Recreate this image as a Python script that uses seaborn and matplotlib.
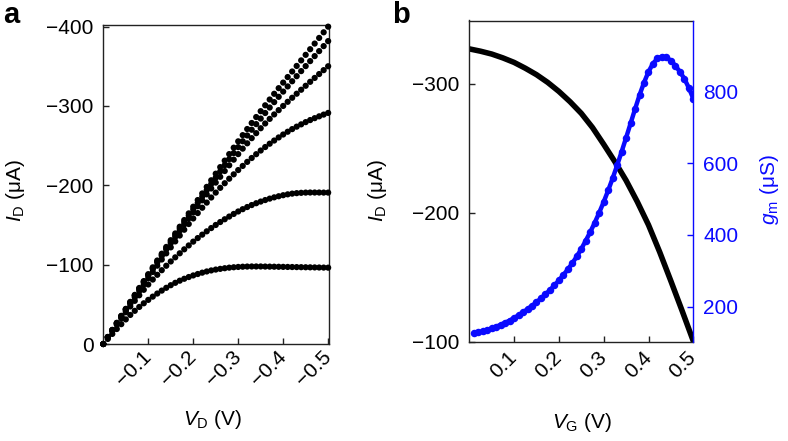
import numpy as np
import pandas as pd
import matplotlib
matplotlib.use("Agg")
import matplotlib.pyplot as plt
import seaborn as sns

# ---------------- data ----------------
VD = [0.0, -0.01, -0.02, -0.03, -0.04, -0.05, -0.06, -0.07, -0.08, -0.09,
      -0.10, -0.11, -0.12, -0.13, -0.14, -0.15, -0.16, -0.17, -0.18, -0.19,
      -0.20, -0.21, -0.22, -0.23, -0.24, -0.25, -0.26, -0.27, -0.28, -0.29,
      -0.30, -0.31, -0.32, -0.33, -0.34, -0.35, -0.36, -0.37, -0.38, -0.39,
      -0.40, -0.41, -0.42, -0.43, -0.44, -0.45, -0.46, -0.47, -0.48, -0.49, -0.50]

ID_1 = [0, -6.4, -12.7, -18.9, -25.0, -31.0, -36.6, -41.8, -46.7, -51.3, -55.6, -59.7, -63.6,
        -67.3, -70.8, -74.1, -77.1, -79.8, -82.2, -84.4, -86.4, -88.2, -89.9, -91.4, -92.7,
        -93.8, -94.7, -95.5, -96.2, -96.7, -97.1, -97.4, -97.6, -97.7, -97.7, -97.7, -97.6,
        -97.5, -97.4, -97.3, -97.2, -97.1, -97.0, -96.9, -96.8, -96.7, -96.6, -96.5, -96.4,
        -96.3, -96.2]
ID_2 = [0, -8.2, -16.3, -24.3, -32.2, -40.0, -47.3, -54.4, -61.4, -68.3, -75.0, -81.2, -87.2,
        -93.0, -98.6, -104.0, -109.2, -114.3, -119.3, -124.2, -129.0, -133.5, -137.8, -142.0,
        -146.1, -150.0, -153.7, -157.2, -160.6, -163.9, -167.0, -169.9, -172.6, -175.1, -177.4,
        -179.5, -181.4, -183.2, -184.8, -186.2, -187.5, -188.6, -189.5, -190.1, -190.5, -190.8,
        -190.9, -190.9, -190.9, -190.8, -190.8]
ID_3 = [0, -8.5, -17.0, -25.4, -33.8, -42.1, -50.4, -58.6, -66.8, -74.9, -82.9, -90.8, -98.7,
        -106.5, -114.2, -121.8, -129.3, -136.7, -144.0, -151.2, -158.2, -165.0, -171.7, -178.2,
        -184.6, -190.8, -196.8, -202.6, -208.3, -213.8, -219.2, -224.4, -229.5, -234.4, -239.2,
        -243.8, -248.2, -252.4, -256.4, -260.3, -264.0, -267.5, -270.8, -273.9, -276.8, -279.6,
        -282.2, -284.6, -286.9, -289.1, -291.2]
ID_4 = [0, -8.7, -17.4, -26.1, -34.8, -43.4, -52.0, -60.6, -69.1, -77.6, -86.1, -94.5, -102.8,
        -111.0, -119.1, -127.1, -135.0, -142.9, -150.7, -158.4, -166.0, -173.6, -181.1, -188.6,
        -196.0, -203.4, -210.7, -218.0, -225.2, -232.3, -239.3, -246.2, -252.9, -259.4, -265.7,
        -271.9, -277.9, -283.7, -289.3, -294.7, -300.0, -305.2, -310.3, -315.4, -320.4, -325.4,
        -330.4, -335.3, -340.2, -345.1, -350.0]
ID_5 = [0, -8.8, -17.6, -26.4, -35.1, -43.8, -52.5, -61.2, -69.8, -78.4, -87.0, -95.5, -104.0,
        -112.4, -120.8, -129.1, -137.4, -145.6, -153.7, -161.8, -169.8, -177.8, -185.8, -193.8,
        -201.7, -209.6, -217.5, -225.3, -233.0, -240.6, -248.1, -255.5, -262.8, -270.0, -277.1,
        -284.1, -291.1, -298.0, -304.8, -311.5, -318.1, -324.6, -331.1, -337.5, -343.9, -350.2,
        -356.5, -362.8, -369.1, -375.4, -381.7]
ID_6 = [0, -8.9, -17.8, -26.7, -35.5, -44.3, -53.1, -61.9, -70.6, -79.3, -88.0, -96.6, -105.2,
        -113.8, -122.3, -130.8, -139.3, -147.8, -156.2, -164.6, -173.0, -181.4, -189.7, -198.0,
        -206.3, -214.6, -222.9, -231.1, -239.3, -247.4, -255.4, -263.2, -270.9, -278.5, -286.0,
        -293.4, -300.8, -308.1, -315.3, -322.4, -329.4, -336.4, -343.4, -350.4, -357.4, -364.4,
        -371.5, -378.6, -385.7, -392.8, -399.9]

VG_I = [0.0, 0.025, 0.05, 0.075, 0.10, 0.125, 0.15, 0.175, 0.20, 0.225, 0.25,
        0.275, 0.30, 0.325, 0.35, 0.375, 0.40, 0.425, 0.45, 0.475, 0.50]
ID_G = [-327, -325.2, -323, -320, -316.5, -312, -307, -301, -294, -286, -277,
        -266, -253, -239.5, -225, -208.5, -190.5, -169.5, -147, -124, -100.5]

VG_GM = [0.01, 0.02, 0.03, 0.04, 0.05, 0.06, 0.07, 0.08, 0.09, 0.10,
         0.11, 0.12, 0.13, 0.14, 0.15, 0.16, 0.17, 0.18, 0.19, 0.20,
         0.21, 0.22, 0.23, 0.24, 0.25, 0.26, 0.27, 0.28, 0.29, 0.30,
         0.31, 0.32, 0.33, 0.34, 0.35, 0.36, 0.37, 0.38, 0.39, 0.40,
         0.41, 0.42, 0.43, 0.44, 0.45, 0.46, 0.47, 0.48, 0.49, 0.50]
GM = [126, 128, 131, 135, 139, 144, 149, 155, 161, 168,
      176, 184, 193, 202, 212, 223, 234, 246, 259, 273,
      288, 304, 321, 340, 361, 384, 408, 434, 462, 492,
      524, 558, 594, 632, 671, 711, 751, 790, 825, 855,
      878, 892, 897, 895, 886, 872, 855, 836, 810, 780]

XTICKS_A = [-0.1, -0.2, -0.3, -0.4, -0.5]
XTICKLABELS_A = ["\u22120.1", "\u22120.2", "\u22120.3", "\u22120.4", "\u22120.5"]
YTICKS_A = [0, -100, -200, -300, -400]
YTICKLABELS_A = ["0", "\u2212100", "\u2212200", "\u2212300", "\u2212400"]
XTICKS_B = [0.1, 0.2, 0.3, 0.4, 0.5]
XTICKLABELS_B = ["0.1", "0.2", "0.3", "0.4", "0.5"]
YTICKS_B = [-100, -200, -300]
YTICKLABELS_B = ["\u2212100", "\u2212200", "\u2212300"]
YTICKS_R = [200, 400, 600, 800]

# ---------------- style ----------------
sns.set_theme(style="ticks")
plt.rcParams["font.family"] = ["Liberation Sans", "DejaVu Sans"]
plt.rcParams.update({
    "mathtext.fontset": "custom",
    "mathtext.rm": "Liberation Sans",
    "mathtext.it": "Liberation Sans:italic",
    "mathtext.bf": "Liberation Sans:bold",
    "axes.linewidth": 1.0,
    "text.color": "black",
    "axes.labelcolor": "black",
    "axes.edgecolor": "#222222",
    "xtick.color": "#222222",
    "ytick.color": "#222222",
    "xtick.labelcolor": "black",
    "ytick.labelcolor": "black",
})
BLUE = "#0a0aff"
FS = 15

fig = plt.figure(figsize=(7.88, 4.41), dpi=100)
W, H = 788, 441
axA = fig.add_axes([103.3 / W, 1 - 344 / H, 226.2 / W, 319 / H])
axB = fig.add_axes([469.3 / W, 1 - 341.7 / H, 224 / W, 321.2 / H])

# ---------------- panel a ----------------
rows = []
for name, vals in [("1", ID_1), ("2", ID_2), ("3", ID_3), ("4", ID_4), ("5", ID_5), ("6", ID_6)]:
    for v, i in zip(VD, vals):
        rows.append({"VD": v, "ID": i, "curve": name})
df_a = pd.DataFrame(rows)
sns.scatterplot(data=df_a, x="VD", y="ID", hue="curve", palette=["black"] * 6,
                s=20, linewidth=0, legend=False, ax=axA, clip_on=False, zorder=3)
axA.set_xlim(0, -0.503)
axA.set_ylim(0, -402)
axA.set_xticks(XTICKS_A)
axA.set_xticklabels(XTICKLABELS_A)
axA.set_yticks(YTICKS_A)
axA.set_yticklabels(YTICKLABELS_A)
axA.set_xlabel(r"$V_\mathrm{D}$ (V)", fontsize=FS)
axA.set_ylabel(r"$I_\mathrm{D}$ ($\mathrm{\mu}$A)", fontsize=FS)

# ---------------- panel b ----------------
sns.lineplot(x=VG_I, y=ID_G, ax=axB, color="black", lw=4.0, zorder=2)
axB.set_xlim(0, 0.5)
axB.set_ylim(-100, -349)
axB.set_xticks(XTICKS_B)
axB.set_xticklabels(XTICKLABELS_B)
axB.set_yticks(YTICKS_B)
axB.set_yticklabels(YTICKLABELS_B)
axB.set_xlabel(r"$V_\mathrm{G}$ (V)", fontsize=FS)
axB.set_ylabel(r"$I_\mathrm{D}$ ($\mathrm{\mu}$A)", fontsize=FS)

axR = axB.twinx()
sns.lineplot(x=VG_GM, y=GM, ax=axR, color=BLUE, lw=3.2, marker="o", markersize=5.4,
             markeredgewidth=0, zorder=3)
axR.set_ylim(102, 998)
axR.set_yticks(YTICKS_R)
axR.set_ylabel(r"$g_\mathrm{m}$ ($\mathrm{\mu}$S)", fontsize=FS, color=BLUE)

for side in ["left", "top", "bottom"]:
    axR.spines[side].set_visible(False)
axR.spines["right"].set_color(BLUE)
axB.spines["right"].set_visible(False)

# ---------------- ticks / labels ----------------
for ax, xpad in ((axA, 7), (axB, 9)):
    for s in ax.spines.values():
        s.set_linewidth(1.0)
    ax.tick_params(axis="both", direction="in", length=4, width=1, labelsize=FS, pad=7)
    ax.tick_params(axis="x", pad=xpad)
    for lab in ax.get_xticklabels():
        lab.set_rotation(45)
        lab.set_ha("right")
        lab.set_va("center")
        lab.set_rotation_mode("anchor")
axA.tick_params(right=False, top=False)
axR.tick_params(axis="y", direction="in", length=4, width=1, labelsize=FS, pad=7,
                colors=BLUE, labelcolor=BLUE)

axA.xaxis.set_label_coords(0.485, -0.238)
axA.xaxis.label.set_va("center")
axA.yaxis.set_label_coords(-0.39, 0.483)
axA.yaxis.label.set_va("center")
axB.xaxis.set_label_coords(0.503, -0.25)
axB.xaxis.label.set_va("center")
axB.yaxis.set_label_coords(-0.408, 0.472)
axB.yaxis.label.set_va("center")
axR.yaxis.set_label_coords(1.342, 0.472)
axR.yaxis.label.set_va("center")

fig.text(3 / W, 1 - 1 / H, "a", fontsize=21, fontweight="bold", va="top", ha="left")
fig.text(392 / W, 1 - 1 / H, "b", fontsize=21, fontweight="bold", va="top", ha="left")

fig.savefig("out.png", dpi=100)
